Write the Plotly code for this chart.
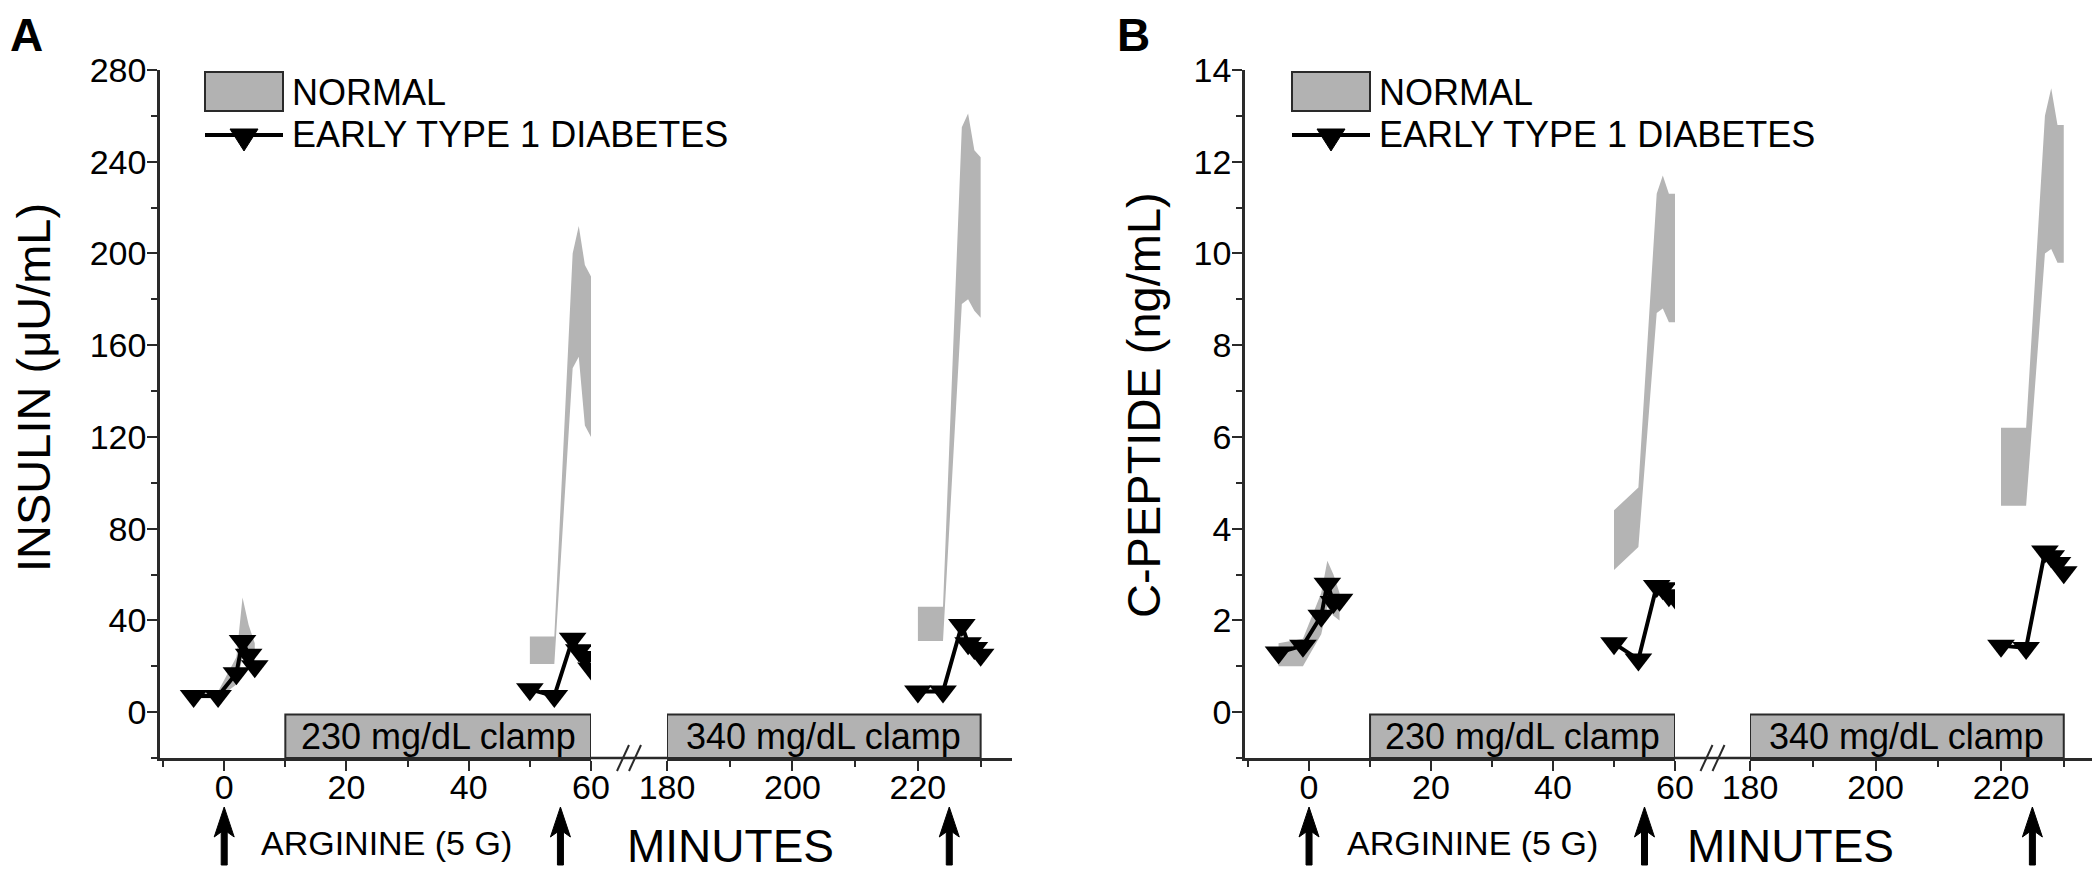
import plotly.graph_objects as go

# page geometry: the browser adds an 8 px body margin round the figure
PAGE_W, PAGE_H = 2100, 879
OFF = 8
W, H = PAGE_W - 2 * OFF, PAGE_H - 2 * OFF

# ---------------- data ----------------
# sampling times (minutes)
T_ARG1 = [-5, -1, 2, 3, 4, 5]
T_ARG2 = [50, 54, 57, 58, 59, 60]
T_ARG3 = [220, 224, 227, 228, 229, 230]

# Early type 1 diabetes (mean)
INS_T1D_1 = [7, 7, 17, 31, 25, 20]
INS_T1D_2 = [10, 7, 32, 27, 24, 19]
INS_T1D_3 = [9, 9, 38, 30, 28, 25]
CP_T1D_1 = [1.3, 1.45, 2.1, 2.8, 2.4, 2.45]
CP_T1D_2 = [1.5, 1.15, 2.75, 2.7, 2.55, 2.5]
CP_T1D_3 = [1.45, 1.4, 3.5, 3.4, 3.25, 3.05]

# Normal subjects (shaded band: upper / lower)
INS_NORM_UP_1 = [9, 9, 24, 50, 38, 30]
INS_NORM_LO_1 = [6, 6, 12, 24, 22, 18]
INS_NORM_UP_2 = [33, 33, 200, 212, 195, 190]
INS_NORM_LO_2 = [21, 21, 150, 155, 125, 120]
INS_NORM_UP_3 = [46, 46, 255, 261, 245, 242]
INS_NORM_LO_3 = [31, 31, 178, 180, 175, 172]
CP_NORM_UP_1 = [1.5, 1.6, 2.6, 3.3, 3.0, 2.6]
CP_NORM_LO_1 = [1.0, 1.0, 1.7, 2.3, 2.1, 2.0]
CP_NORM_UP_2 = [4.4, 4.9, 11.3, 11.7, 11.3, 11.3]
CP_NORM_LO_2 = [3.1, 3.6, 8.7, 8.8, 8.5, 8.5]
CP_NORM_UP_3 = [6.2, 6.2, 13.0, 13.6, 12.8, 12.8]
CP_NORM_LO_3 = [4.5, 4.5, 10.0, 10.1, 9.8, 9.8]

# clamp periods (minutes) and labels
CLAMP_SPANS = [(10, 60), (180, 230)]
CLAMP_LABELS = ["230 mg/dL clamp", "340 mg/dL clamp"]
ARGININE_TIMES = [0, 55, 225]

X_TICKS_EARLY = [0, 20, 40, 60]
X_TICKS_LATE = [180, 200, 220]

LEG_NORMAL = "NORMAL"
LEG_T1D = "EARLY TYPE 1 DIABETES"

# ---------------- styling ----------------
FONT = "Liberation Sans, Arial, sans-serif"
BAND = "#b4b4b4"
BOX = "#b2b2b2"
AX = "#2a2a2a"


def px(x):
    """screen pixel -> paper fraction"""
    return min(max((x - OFF) / W, 0.0), 1.0)


def py(y):
    return min(max(1 - (y - OFF) / H, 0.0), 1.0)


Y_TOP, Y_BOT = 70, 758

fig = go.Figure()

panels = [
    dict(name="A", y="y", x1="x", x2="x2", x1_dom=(160, 591), x2_dom=(667, 1012), x2_end=235,
         yrange=[-20, 280], ydt=40, ymin=20, ytitle="INSULIN (\u03bcU/mL)", ytitle_x=33, ytitle_y=388,
         t1d=[INS_T1D_1, INS_T1D_2, INS_T1D_3],
         up=[INS_NORM_UP_1, INS_NORM_UP_2, INS_NORM_UP_3],
         lo=[INS_NORM_LO_1, INS_NORM_LO_2, INS_NORM_LO_3],
         box_top=-1.0, letter_x=26, arg_x=386, min_x=730, leg_x=205),
    dict(name="B", y="y2", x1="x3", x2="x4", x1_dom=(1245, 1675), x2_dom=(1750, 2092), x2_end=234.5,
         yrange=[-1, 14], ydt=2, ymin=1, ytitle="C-PEPTIDE (ng/mL)", ytitle_x=1143, ytitle_y=405,
         t1d=[CP_T1D_1, CP_T1D_2, CP_T1D_3],
         up=[CP_NORM_UP_1, CP_NORM_UP_2, CP_NORM_UP_3],
         lo=[CP_NORM_LO_1, CP_NORM_LO_2, CP_NORM_LO_3],
         box_top=-0.05, letter_x=1133, arg_x=1472, min_x=1790, leg_x=1292),
]

TIMES = [T_ARG1, T_ARG2, T_ARG3]
shapes = []
annotations = []


def label(x, y, text, size, angle=0, xanchor="center", yanchor="middle", bold=False):
    return dict(x=px(x), xref="paper", y=py(y), yref="paper", xanchor=xanchor, yanchor=yanchor,
                text=("<b>%s</b>" % text) if bold else text, textangle=angle, showarrow=False,
                borderpad=0, font=dict(family=FONT, size=size, color="black"))


ARROW_PATH = "M0,0 L10,-30 L3,-25 L3,-58 L-3,-58 L-3,-25 L-10,-30 Z"

for p in panels:
    xaxes = [p["x1"], p["x1"], p["x2"]]
    # normal bands
    for t, up, lo, xa in zip(TIMES, p["up"], p["lo"], xaxes):
        fig.add_trace(go.Scatter(
            x=list(t) + list(t)[::-1], y=list(up) + list(lo)[::-1],
            xaxis=xa, yaxis=p["y"], fill="toself", fillcolor=BAND,
            line=dict(width=0, color=BAND), mode="lines", hoverinfo="skip",
            showlegend=False, name=LEG_NORMAL))
    # diabetes lines
    for t, v, xa in zip(TIMES, p["t1d"], xaxes):
        fig.add_trace(go.Scatter(
            x=t, y=v, xaxis=xa, yaxis=p["y"], mode="lines+markers",
            line=dict(color="black", width=4),
            marker=dict(symbol="triangle-down", size=24, color="black"),
            showlegend=False, name=LEG_T1D))

    # clamp boxes
    for (a, b), lab, xa in zip(CLAMP_SPANS, CLAMP_LABELS, [p["x1"], p["x2"]]):
        shapes.append(dict(type="rect", xref=xa, yref=p["y"], x0=a, x1=b,
                           y0=p["yrange"][0], y1=p["box_top"], fillcolor=BOX,
                           line=dict(color=AX, width=2), layer="above"))
        annotations.append(dict(x=(a + b) / 2, xref=xa, y=(p["yrange"][0] + p["box_top"]) / 2,
                                yref=p["y"], xanchor="center", yanchor="middle",
                                text=lab, showarrow=False,
                                font=dict(family=FONT, size=36, color="black")))

    # x-axis line across the break and break marks
    g0, g1 = p["x1_dom"][1], p["x2_dom"][0]
    shapes.append(dict(type="line", xref="paper", yref="paper", x0=px(g0), x1=px(g1),
                       y0=py(Y_BOT), y1=py(Y_BOT), line=dict(color=AX, width=2.5)))
    mid = (g0 + g1) / 2
    for off in (-6, 6):
        shapes.append(dict(type="line", xref="paper", yref="paper",
                           x0=px(mid + off - 6), x1=px(mid + off + 6),
                           y0=py(Y_BOT + 13), y1=py(Y_BOT - 13),
                           line=dict(color=AX, width=2)))

    # arginine arrows
    for i, t in enumerate(ARGININE_TIMES):
        xa = p["x1"] if i < 2 else p["x2"]
        shapes.append(dict(type="path", xref=xa, yref="paper", xsizemode="pixel",
                           ysizemode="pixel", xanchor=t, yanchor=py(807), path=ARROW_PATH,
                           fillcolor="black", line=dict(color="black", width=1)))
    annotations.append(label(p["arg_x"], 843, "ARGININE (5 G)", 34))
    annotations.append(label(p["min_x"], 846, "MINUTES", 46))
    annotations.append(label(p["ytitle_x"], p["ytitle_y"], p["ytitle"], 47, angle=-90))
    annotations.append(label(p["letter_x"], 8, p["name"], 46, yanchor="top", bold=True))

    # legend (manual)
    lx = p["leg_x"]
    shapes.append(dict(type="rect", xref="paper", yref="paper", x0=px(lx), x1=px(lx + 78),
                       y0=py(111), y1=py(72), fillcolor=BOX, line=dict(color=AX, width=2)))
    shapes.append(dict(type="line", xref="paper", yref="paper", x0=px(lx), x1=px(lx + 78),
                       y0=py(135), y1=py(135), line=dict(color="black", width=4)))
    cx = lx + 39
    shapes.append(dict(type="path", xref="paper", yref="paper",
                       path="M %f,%f L %f,%f L %f,%f Z" % (px(cx - 14), py(129), px(cx + 14), py(129),
                                                           px(cx), py(151)),
                       fillcolor="black", line=dict(color="black", width=1)))
    annotations.append(label(lx + 86, 93, LEG_NORMAL, 36, xanchor="left"))
    annotations.append(label(lx + 86, 135, LEG_T1D, 36, xanchor="left"))

tickfont = dict(family=FONT, size=34, color="black")


def xaxis_cfg(dom, rng, ticks, anchor):
    return dict(domain=[px(dom[0]), px(dom[1])], range=rng, anchor=anchor, automargin=False,
                tickmode="array", tickvals=ticks, ticks="outside", ticklen=10, tickwidth=2,
                tickcolor=AX, showline=True, linecolor=AX, linewidth=2.5, showgrid=False,
                zeroline=False, tickfont=tickfont, ticklabelstandoff=-13,
                minor=dict(dtick=10, tick0=0, ticks="outside", ticklen=6, tickwidth=2,
                           tickcolor=AX, showgrid=False))


def yaxis_cfg(p, anchor):
    return dict(domain=[py(Y_BOT), py(Y_TOP)], range=p["yrange"], anchor=anchor, automargin=False,
                tick0=0, dtick=p["ydt"], ticks="outside", ticklen=10, tickwidth=2, tickcolor=AX,
                showline=True, linecolor=AX, linewidth=2.5, showgrid=False, zeroline=False,
                tickfont=tickfont, ticklabelstandoff=-6,
                minor=dict(dtick=p["ymin"], tick0=0, ticks="outside", ticklen=6, tickwidth=2,
                           tickcolor=AX, showgrid=False))


pa, pb = panels
fig.update_layout(
    template="none",
    width=W, height=H, margin=dict(l=0, r=0, t=0, b=0, pad=0),
    paper_bgcolor="white", plot_bgcolor="rgba(0,0,0,0)", showlegend=False,
    xaxis=xaxis_cfg(pa["x1_dom"], [-10.5, 60], X_TICKS_EARLY, "y"),
    xaxis2=xaxis_cfg(pa["x2_dom"], [180, pa["x2_end"]], X_TICKS_LATE, "y"),
    xaxis3=xaxis_cfg(pb["x1_dom"], [-10.5, 60], X_TICKS_EARLY, "y2"),
    xaxis4=xaxis_cfg(pb["x2_dom"], [180, pb["x2_end"]], X_TICKS_LATE, "y2"),
    yaxis=yaxis_cfg(pa, "x"),
    yaxis2=yaxis_cfg(pb, "x3"),
    shapes=shapes, annotations=annotations,
)

fig.write_html("out.html")
